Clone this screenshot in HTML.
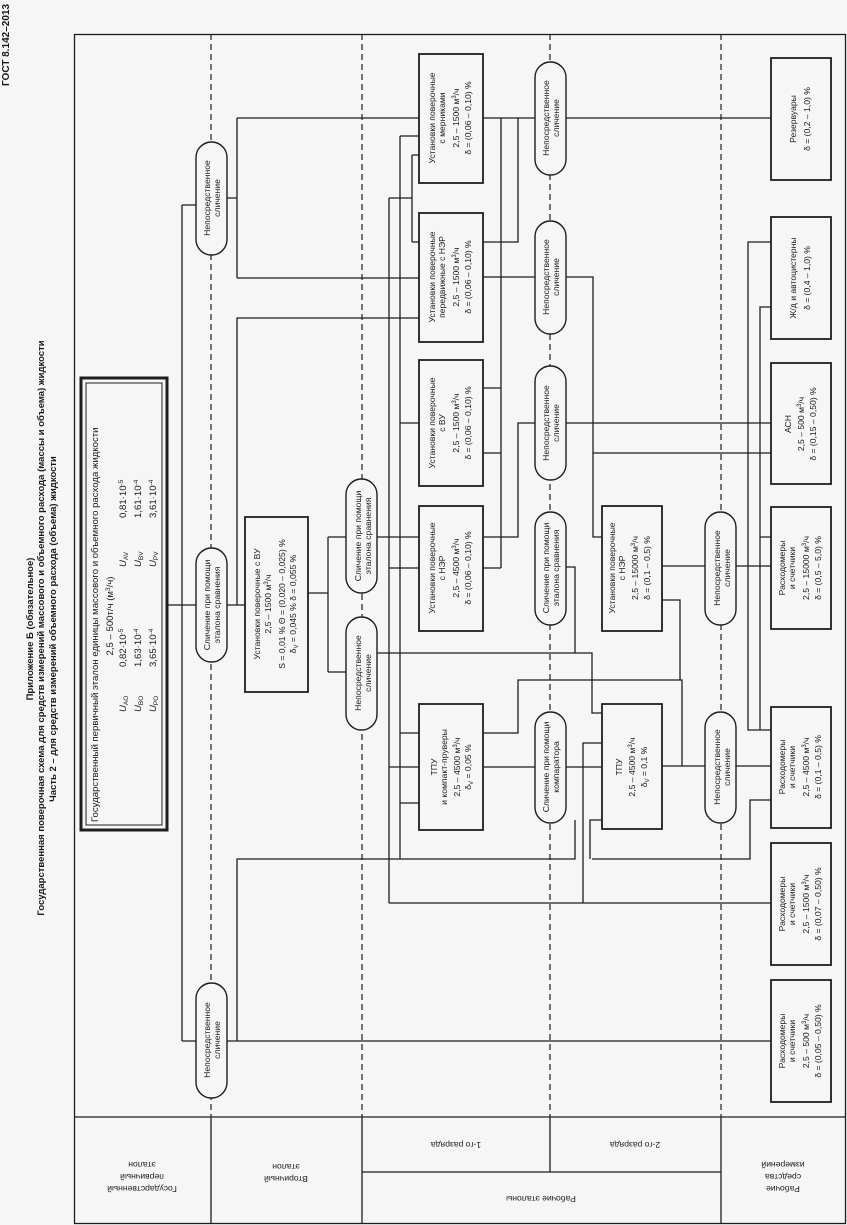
<!DOCTYPE html>
<html><head><meta charset="utf-8"><style>
html,body{margin:0;padding:0;background:#f6f6f6;}
svg{display:block;}
text{font-family:"Liberation Sans",sans-serif;fill:#1a1a1a;}
.t{font-size:8.6px;text-anchor:middle;}
.b{font-weight:bold;}
.ln{fill:none;stroke:#1e1e1e;stroke-width:1.3;}
.bx{fill:#f6f6f6;stroke:#1e1e1e;stroke-width:1.8;}
.pl{fill:#f6f6f6;stroke:#1e1e1e;stroke-width:1.4;}
.ds{stroke:#1e1e1e;stroke-width:1.2;stroke-dasharray:6,4;fill:none;}
</style></head><body>
<svg width="847" height="1225" viewBox="0 0 847 1225" xmlns="http://www.w3.org/2000/svg">
<rect width="847" height="1225" fill="#f6f6f6"/>
<!-- titles -->
<text class="b" font-size="10" transform="translate(9,45) rotate(-90)" text-anchor="middle">ГОСТ 8.142–2013</text>
<text class="b" font-size="9.5" transform="translate(33,629) rotate(-90)" text-anchor="middle">Приложение Б (обязательное)</text>
<text class="b" font-size="9.5" transform="translate(44,628) rotate(-90)" text-anchor="middle">Государственная поверочная схема для средств измерений массового и объемного расхода (массы и объема) жидкости</text>
<text class="b" font-size="9.5" transform="translate(56,629) rotate(-90)" text-anchor="middle">Часть 2 – для средств измерений объемного расхода (объема) жидкости</text>

<!-- frame -->
<rect x="74.5" y="34.5" width="771" height="1189" class="ln" stroke-width="1.5"/>
<line x1="74" y1="1117" x2="846" y2="1117" class="ln"/>
<line x1="211" y1="1117" x2="211" y2="1224" class="ln"/>
<line x1="362" y1="1117" x2="362" y2="1224" class="ln"/>
<line x1="550" y1="1117" x2="550" y2="1172" class="ln"/>
<line x1="721" y1="1117" x2="721" y2="1224" class="ln"/>
<line x1="362" y1="1172" x2="721" y2="1172" class="ln"/>
<!-- dashed -->
<line x1="211" y1="34" x2="211" y2="1117" class="ds"/>
<line x1="362" y1="34" x2="362" y2="1117" class="ds"/>
<line x1="550" y1="34" x2="550" y2="1117" class="ds"/>
<line x1="721" y1="34" x2="721" y2="1117" class="ds"/>

<!-- bottom labels (upside down) -->
<text class="t" font-size="8.8" transform="translate(142,1170) rotate(180)"><tspan x="0" y="-16">Государственный</tspan><tspan x="0" y="-4">первичный</tspan><tspan x="0" y="8">эталон</tspan></text>
<text class="t" font-size="8.8" transform="translate(286,1170) rotate(180)"><tspan x="0" y="-6">Вторичный</tspan><tspan x="0" y="6">эталон</tspan></text>
<text class="t" font-size="8.8" transform="translate(456,1142) rotate(180)">1-го разряда</text>
<text class="t" font-size="8.8" transform="translate(635,1142) rotate(180)">2-го разряда</text>
<text class="t" font-size="8.8" transform="translate(541,1196) rotate(180)">Рабочие эталоны</text>
<text class="t" font-size="8.8" transform="translate(783,1170) rotate(180)"><tspan x="0" y="-16">Рабочие</tspan><tspan x="0" y="-4">средства</tspan><tspan x="0" y="8">измерений</tspan></text>

<!-- connectors -->
<g class="ln">
<path d="M167 605H196M182 205V1041M182 205H196M182 1041H196"/>
<path d="M227 198H237M237 118V278M237 118H419M237 278H419"/>
<path d="M227 605H245M237 605V318H419"/>
<path d="M227 1041H771M237 1041V859H575V820M592 859H750V800H771"/>
<path d="M389 903H771M583 903V743H602M590 859V820H602"/>
<path d="M308 593H328M328 537V672M328 537H346M328 672H346"/>
<path d="M377 537H419M377 653H400"/>
<path d="M400 136V859M400 136H419M400 423H419M400 733H419M400 803H419"/>
<path d="M389 198V903M389 198H412M412 155V242M412 155H419M412 242H419M389 568H419M389 767H419"/>
<path d="M400 653H575V567H566M575 653H592V713H602"/>
<path d="M483 118H535M501 118V568M483 388H501M483 453H501M483 568H501"/>
<path d="M483 242H518V118"/>
<path d="M483 277H535M566 277H593V537H602"/>
<path d="M483 537H518V423H535M566 423H771M593 453H771"/>
<path d="M483 733H518V680H682V766M483 767H535M566 767H602M662 766H705M736 766H771"/>
<path d="M662 566H705M736 566H771M662 600H680V680"/>
<path d="M566 118H771"/>
<path d="M771 242H748V730H771M771 307H760V730M760 537H771"/>
</g>

<!-- primary box -->
<rect x="81" y="378" width="86" height="452" fill="#f6f6f6" stroke="#1e1e1e" stroke-width="3"/>
<rect x="86" y="383" width="76" height="442" fill="none" stroke="#1e1e1e" stroke-width="1"/>
<text font-size="9.6" transform="translate(98,822) rotate(-90)">Государственный первичный эталон единицы массового и объемного расхода жидкости</text>
<text font-size="9.6" text-anchor="middle" transform="translate(113,616) rotate(-90)">2,5 – 500т/ч (м<tspan font-size="6.5" dy="-3">3</tspan><tspan dy="3">/ч)</tspan></text>
<g font-size="9.6">
<text transform="translate(126,712) rotate(-90)"><tspan font-style="italic">U</tspan><tspan font-size="6.5" dy="2">AO</tspan></text>
<text transform="translate(141,712) rotate(-90)"><tspan font-style="italic">U</tspan><tspan font-size="6.5" dy="2">BO</tspan></text>
<text transform="translate(156,712) rotate(-90)"><tspan font-style="italic">U</tspan><tspan font-size="6.5" dy="2">PO</tspan></text>
<text transform="translate(126,667) rotate(-90)">0,82·10<tspan font-size="6.5" dy="-3">-5</tspan></text>
<text transform="translate(141,667) rotate(-90)">1,63·10<tspan font-size="6.5" dy="-3">-4</tspan></text>
<text transform="translate(156,667) rotate(-90)">3,65·10<tspan font-size="6.5" dy="-3">-4</tspan></text>
<text transform="translate(126,567) rotate(-90)"><tspan font-style="italic">U</tspan><tspan font-size="6.5" dy="2">AV</tspan></text>
<text transform="translate(141,567) rotate(-90)"><tspan font-style="italic">U</tspan><tspan font-size="6.5" dy="2">BV</tspan></text>
<text transform="translate(156,567) rotate(-90)"><tspan font-style="italic">U</tspan><tspan font-size="6.5" dy="2">PV</tspan></text>
<text transform="translate(126,518) rotate(-90)">0,81·10<tspan font-size="6.5" dy="-3">-5</tspan></text>
<text transform="translate(141,518) rotate(-90)">1,61·10<tspan font-size="6.5" dy="-3">-4</tspan></text>
<text transform="translate(156,518) rotate(-90)">3,61·10<tspan font-size="6.5" dy="-3">-4</tspan></text>
</g>

<!-- pills -->
<g>
<rect class="pl" x="196" y="142" width="31" height="113" rx="15.5"/>
<text class="t" transform="translate(211,198) rotate(-90)"><tspan x="0" y="-1">Непосредственное</tspan><tspan x="0" y="9">сличение</tspan></text>
<rect class="pl" x="196" y="548" width="31" height="114" rx="15.5"/>
<text class="t" transform="translate(211,605) rotate(-90)"><tspan x="0" y="-1">Сличение при помощи</tspan><tspan x="0" y="9">эталона сравнения</tspan></text>
<rect class="pl" x="196" y="983" width="31" height="115" rx="15.5"/>
<text class="t" transform="translate(211,1040) rotate(-90)"><tspan x="0" y="-1">Непосредственное</tspan><tspan x="0" y="9">сличение</tspan></text>

<rect class="pl" x="346" y="479" width="31" height="114" rx="15.5"/>
<text class="t" transform="translate(362,536) rotate(-90)"><tspan x="0" y="-1">Сличение при помощи</tspan><tspan x="0" y="9">эталона сравнения</tspan></text>
<rect class="pl" x="346" y="617" width="31" height="113" rx="15.5"/>
<text class="t" transform="translate(362,673) rotate(-90)"><tspan x="0" y="-1">Непосредственное</tspan><tspan x="0" y="9">сличение</tspan></text>

<rect class="pl" x="535" y="62" width="31" height="113" rx="15.5"/>
<text class="t" transform="translate(550,118) rotate(-90)"><tspan x="0" y="-1">Непосредственное</tspan><tspan x="0" y="9">сличение</tspan></text>
<rect class="pl" x="535" y="221" width="31" height="113" rx="15.5"/>
<text class="t" transform="translate(550,277) rotate(-90)"><tspan x="0" y="-1">Непосредственное</tspan><tspan x="0" y="9">сличение</tspan></text>
<rect class="pl" x="535" y="366" width="31" height="114" rx="15.5"/>
<text class="t" transform="translate(550,423) rotate(-90)"><tspan x="0" y="-1">Непосредственное</tspan><tspan x="0" y="9">сличение</tspan></text>
<rect class="pl" x="535" y="512" width="31" height="113" rx="15.5"/>
<text class="t" transform="translate(550,568) rotate(-90)"><tspan x="0" y="-1">Сличение при помощи</tspan><tspan x="0" y="9">эталона сравнения</tspan></text>
<rect class="pl" x="535" y="712" width="31" height="111" rx="15.5"/>
<text class="t" transform="translate(550,767) rotate(-90)"><tspan x="0" y="-1">Сличение при помощи</tspan><tspan x="0" y="9">компаратора</tspan></text>

<rect class="pl" x="705" y="512" width="31" height="113" rx="15.5"/>
<text class="t" transform="translate(721,568) rotate(-90)"><tspan x="0" y="-1">Непосредственное</tspan><tspan x="0" y="9">сличение</tspan></text>
<rect class="pl" x="705" y="712" width="31" height="111" rx="15.5"/>
<text class="t" transform="translate(721,767) rotate(-90)"><tspan x="0" y="-1">Непосредственное</tspan><tspan x="0" y="9">сличение</tspan></text>
</g>

<!-- secondary box -->
<rect class="bx" x="245" y="517" width="63" height="175"/>
<text class="t" transform="translate(276,604) rotate(-90)"><tspan x="0" y="-16">Установки поверочные с ВУ</tspan><tspan x="0" y="-5">2,5 – 1500 м<tspan font-size="6" dy="-3">3</tspan><tspan dy="3">/ч</tspan></tspan><tspan x="0" y="9">S = 0,01 %  Θ = (0,020 – 0,025) %</tspan><tspan x="0" y="20">δ<tspan font-size="6" dy="2">V</tspan><tspan dy="-2"> = 0,045 %  δ = 0,055 %</tspan></tspan></text>

<!-- 1st rank boxes -->
<rect class="bx" x="419" y="54" width="64" height="129"/>
<text class="t" transform="translate(451,118) rotate(-90)"><tspan x="0" y="-16">Установки поверочные</tspan><tspan x="0" y="-6">с мерниками</tspan><tspan x="0" y="8">2,5 – 1500 м<tspan font-size="6" dy="-3">3</tspan><tspan dy="3">/ч</tspan></tspan><tspan x="0" y="20">δ = (0,06 – 0,10) %</tspan></text>
<rect class="bx" x="419" y="213" width="64" height="129"/>
<text class="t" transform="translate(451,277) rotate(-90)"><tspan x="0" y="-16">Установки поверочные</tspan><tspan x="0" y="-6">передвижные с НЭР</tspan><tspan x="0" y="8">2,5 – 1500 м<tspan font-size="6" dy="-3">3</tspan><tspan dy="3">/ч</tspan></tspan><tspan x="0" y="20">δ = (0,06 – 0,10) %</tspan></text>
<rect class="bx" x="419" y="360" width="64" height="126"/>
<text class="t" transform="translate(451,423) rotate(-90)"><tspan x="0" y="-16">Установки поверочные</tspan><tspan x="0" y="-6">с ВУ</tspan><tspan x="0" y="8">2,5 – 1500 м<tspan font-size="6" dy="-3">3</tspan><tspan dy="3">/ч</tspan></tspan><tspan x="0" y="20">δ = (0,06 – 0,10) %</tspan></text>
<rect class="bx" x="419" y="506" width="64" height="125"/>
<text class="t" transform="translate(451,568) rotate(-90)"><tspan x="0" y="-16">Установки поверочные</tspan><tspan x="0" y="-6">с НЭР</tspan><tspan x="0" y="8">2,5 – 4500 м<tspan font-size="6" dy="-3">3</tspan><tspan dy="3">/ч</tspan></tspan><tspan x="0" y="20">δ = (0,06 – 0,10) %</tspan></text>
<rect class="bx" x="419" y="704" width="64" height="126"/>
<text class="t" transform="translate(451,767) rotate(-90)"><tspan x="0" y="-14">ТПУ</tspan><tspan x="0" y="-4">и компакт-пруверы</tspan><tspan x="0" y="9">2,5 – 4500 м<tspan font-size="6" dy="-3">3</tspan><tspan dy="3">/ч</tspan></tspan><tspan x="0" y="20">δ<tspan font-size="6" dy="2">V</tspan><tspan dy="-2"> = 0,05 %</tspan></tspan></text>

<!-- 2nd rank boxes -->
<rect class="bx" x="602" y="506" width="60" height="125"/>
<text class="t" transform="translate(632,568) rotate(-90)"><tspan x="0" y="-17">Установки поверочные</tspan><tspan x="0" y="-7">с НЭР</tspan><tspan x="0" y="6">2,5 – 15000 м<tspan font-size="6" dy="-3">3</tspan><tspan dy="3">/ч</tspan></tspan><tspan x="0" y="18">δ = (0,1 – 0,5) %</tspan></text>
<rect class="bx" x="602" y="704" width="60" height="125"/>
<text class="t" transform="translate(632,767) rotate(-90)"><tspan x="0" y="-10">ТПУ</tspan><tspan x="0" y="3">2,5 – 4500 м<tspan font-size="6" dy="-3">3</tspan><tspan dy="3">/ч</tspan></tspan><tspan x="0" y="15">δ<tspan font-size="6" dy="2">V</tspan><tspan dy="-2"> = 0,1 %</tspan></tspan></text>

<!-- working instruments -->
<rect class="bx" x="771" y="58" width="60" height="122"/>
<text class="t" transform="translate(801,119) rotate(-90)"><tspan x="0" y="-5">Резервуары</tspan><tspan x="0" y="9">δ = (0,2 – 1,0) %</tspan></text>
<rect class="bx" x="771" y="217" width="60" height="122"/>
<text class="t" transform="translate(801,278) rotate(-90)"><tspan x="0" y="-5">Ж/д и автоцистерны</tspan><tspan x="0" y="9">δ = (0,4 – 1,0) %</tspan></text>
<rect class="bx" x="771" y="363" width="60" height="121"/>
<text class="t" transform="translate(801,424) rotate(-90)"><tspan x="0" y="-10">АСН</tspan><tspan x="0" y="3">2,5 – 500 м<tspan font-size="6" dy="-3">3</tspan><tspan dy="3">/ч</tspan></tspan><tspan x="0" y="15">δ = (0,15 – 0,50) %</tspan></text>
<rect class="bx" x="771" y="507" width="60" height="122"/>
<text class="t" transform="translate(801,568) rotate(-90)"><tspan x="0" y="-16">Расходомеры</tspan><tspan x="0" y="-6">и счетчики</tspan><tspan x="0" y="8">2,5 – 15000 м<tspan font-size="6" dy="-3">3</tspan><tspan dy="3">/ч</tspan></tspan><tspan x="0" y="20">δ = (0,5 – 5,0) %</tspan></text>
<rect class="bx" x="771" y="707" width="60" height="121"/>
<text class="t" transform="translate(801,767) rotate(-90)"><tspan x="0" y="-16">Расходомеры</tspan><tspan x="0" y="-6">и счетчики</tspan><tspan x="0" y="8">2,5 – 4500 м<tspan font-size="6" dy="-3">3</tspan><tspan dy="3">/ч</tspan></tspan><tspan x="0" y="20">δ = (0,1 – 0,5) %</tspan></text>
<rect class="bx" x="771" y="843" width="60" height="122"/>
<text class="t" transform="translate(801,904) rotate(-90)"><tspan x="0" y="-16">Расходомеры</tspan><tspan x="0" y="-6">и счетчики</tspan><tspan x="0" y="8">2,5 – 1500 м<tspan font-size="6" dy="-3">3</tspan><tspan dy="3">/ч</tspan></tspan><tspan x="0" y="20">δ = (0,07 – 0,50) %</tspan></text>
<rect class="bx" x="771" y="980" width="60" height="122"/>
<text class="t" transform="translate(801,1041) rotate(-90)"><tspan x="0" y="-16">Расходомеры</tspan><tspan x="0" y="-6">и счетчики</tspan><tspan x="0" y="8">2,5 – 500 м<tspan font-size="6" dy="-3">3</tspan><tspan dy="3">/ч</tspan></tspan><tspan x="0" y="20">δ = (0,05 – 0,50) %</tspan></text>
</svg>
</body></html>
